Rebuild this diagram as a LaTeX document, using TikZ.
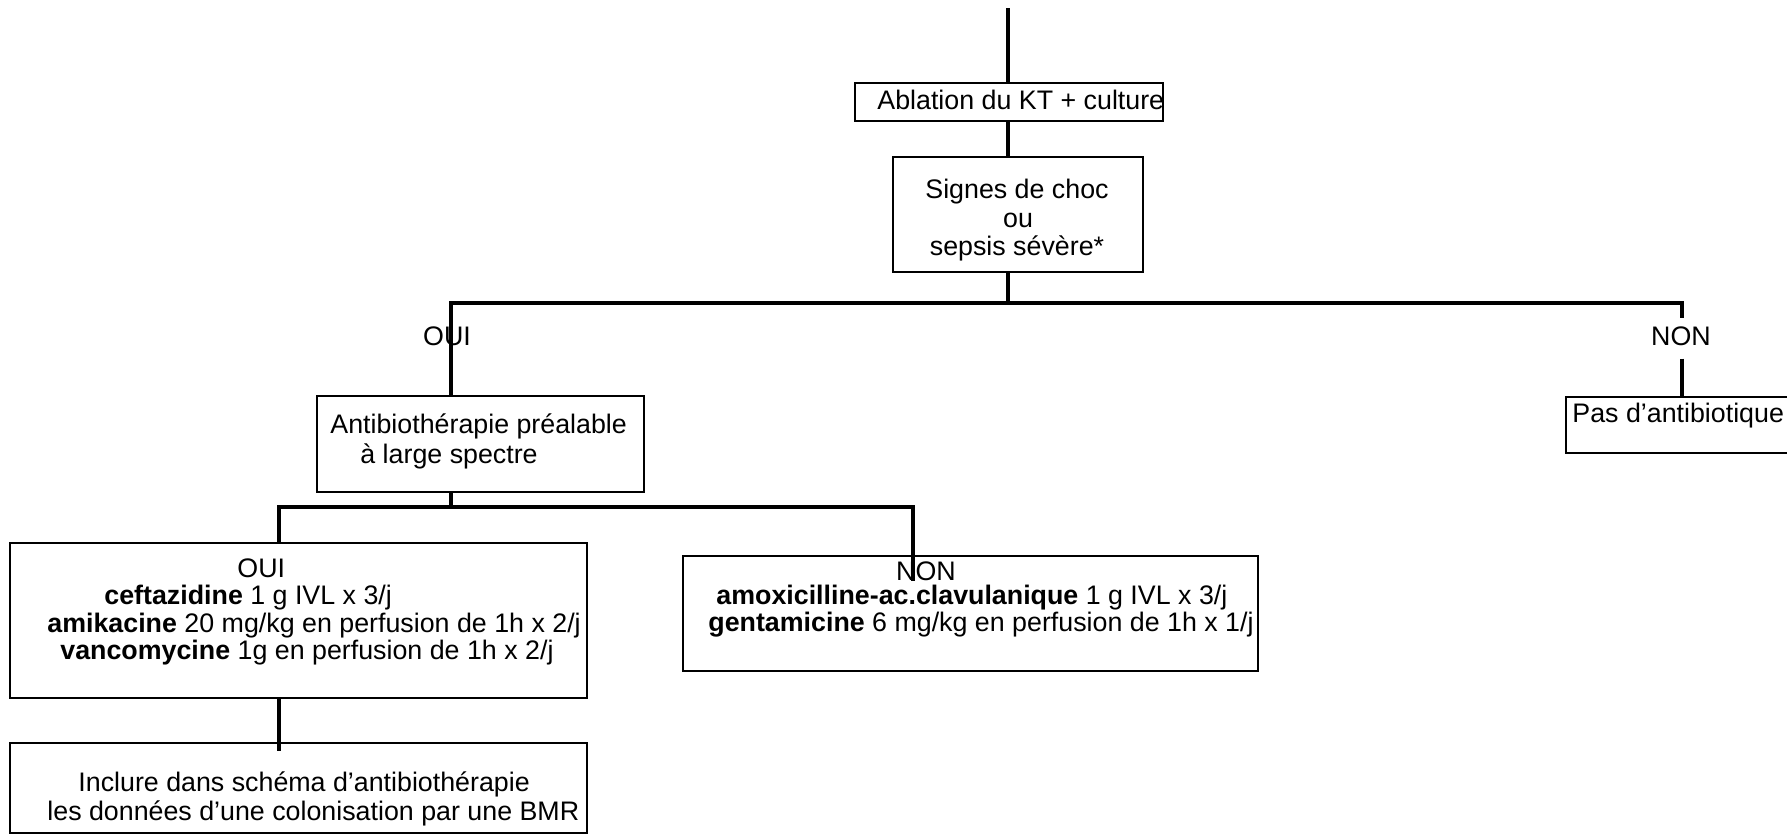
\documentclass[tikz,border=0pt]{standalone}
\usepackage{fontspec}
\setmainfont{Liberation Sans}
\usetikzlibrary{fit}
\newcommand\diafont{\fontsize{13.4}{16}\selectfont}
\begin{document}
\begin{tikzpicture}[x=0.5pt,y=-0.5pt,
  box/.style={draw, line width=0.85pt, inner sep=0pt},
  conn/.style={line width=1.6pt},
  txt/.style={inner sep=0pt, anchor=base west, font=\diafont},
  ctxt/.style={inner sep=0pt, anchor=base, font=\diafont}]
\useasboundingbox (0,0) rectangle (1787,835);
\fill[white] (0,0) rectangle (1787,835);
\clip (0,0) rectangle (1787,835);

% boxes
\node[box, fit={(855,83)(1163,121)}] (abl) {};
\node[box, fit={(893,157)(1143,272)}] (sig) {};
\node[box, fit={(317,396)(644,492)}] (atb) {};
\node[box, fit={(1566,397)(1800,453)}] (pas) {};
\node[box, fit={(10,543)(587,698)}] (oui) {};
\node[box, fit={(683,556)(1258,671)}] (non) {};
\node[box, fit={(10,743)(587,833)}] (bmr) {};

% texts
\node[txt] (tabl) at (877,109) {Ablation du KT + culture};
\node[ctxt] (tsig1) at (1017,198) {Signes de choc};
\node[ctxt] (tsig2) at (1018,227) {ou};
\node[ctxt] (tsig3) at (1017,255) {sepsis sévère*};
\node[ctxt] (ouilbl) at (447,345) {OUI};
\node[ctxt] (nonlbl) at (1681,345) {NON};
\node[txt] (tpas) at (1572,422) {Pas d’antibiotique};
\node[txt] (tatb1) at (330,433) {Antibiothérapie préalable};
\node[txt] (tatb2) at (360,463) {à large spectre};
\node[txt] (toui0) at (237,577) {OUI};
\node[txt] (toui1) at (104,604) {\textbf{ceftazidine} 1 g IVL x 3/j};
\node[txt] (toui2) at (47,632) {\textbf{amikacine} 20 mg/kg en perfusion de 1h x 2/j};
\node[txt] (toui3) at (60,659) {\textbf{vancomycine} 1g en perfusion de 1h x 2/j};
\node[ctxt] (tnon0) at (926,580) {NON};
\node[txt] (tnon1) at (716,604) {\textbf{amoxicilline-ac.clavulanique} 1 g IVL x 3/j};
\node[txt] (tnon2) at (708,631) {\textbf{gentamicine} 6 mg/kg en perfusion de 1h x 1/j};
\node[txt] (tbmr1) at (78,791) {Inclure dans schéma d’antibiothérapie};
\node[txt] (tbmr2) at (47,820) {les données d’une colonisation par une BMR};

% connectors
\coordinate (top) at (1008,8);
\coordinate (h1L) at (451,303);
\coordinate (h1M) at (1008,303);
\coordinate (h1R) at (1682,303);
\coordinate (h2L) at (279,507);
\coordinate (h2M) at (451,507);
\coordinate (h2R) at (913,507);

\draw[conn] (top) -- (top |- abl.north);
\draw[conn] (top |- abl.south) -- (top |- sig.north);
\draw[conn] (top |- sig.south) -- (h1M);
\draw[conn] (atb.north -| h1L) |- (h1R) -- ([yshift=4pt]nonlbl.north -| h1R);
\draw[conn] ([yshift=-6.5pt]nonlbl.south -| h1R) -- (pas.north -| h1R);
\draw[conn] (atb.south -| h2M) -- (h2M);
\draw[conn] (oui.north -| h2L) |- (h2R) -- (tnon0.south -| h2R);
\draw[conn] (oui.south -| h2L) -- ([yshift=-4.5pt]bmr.north -| h2L);
\end{tikzpicture}
\end{document}
